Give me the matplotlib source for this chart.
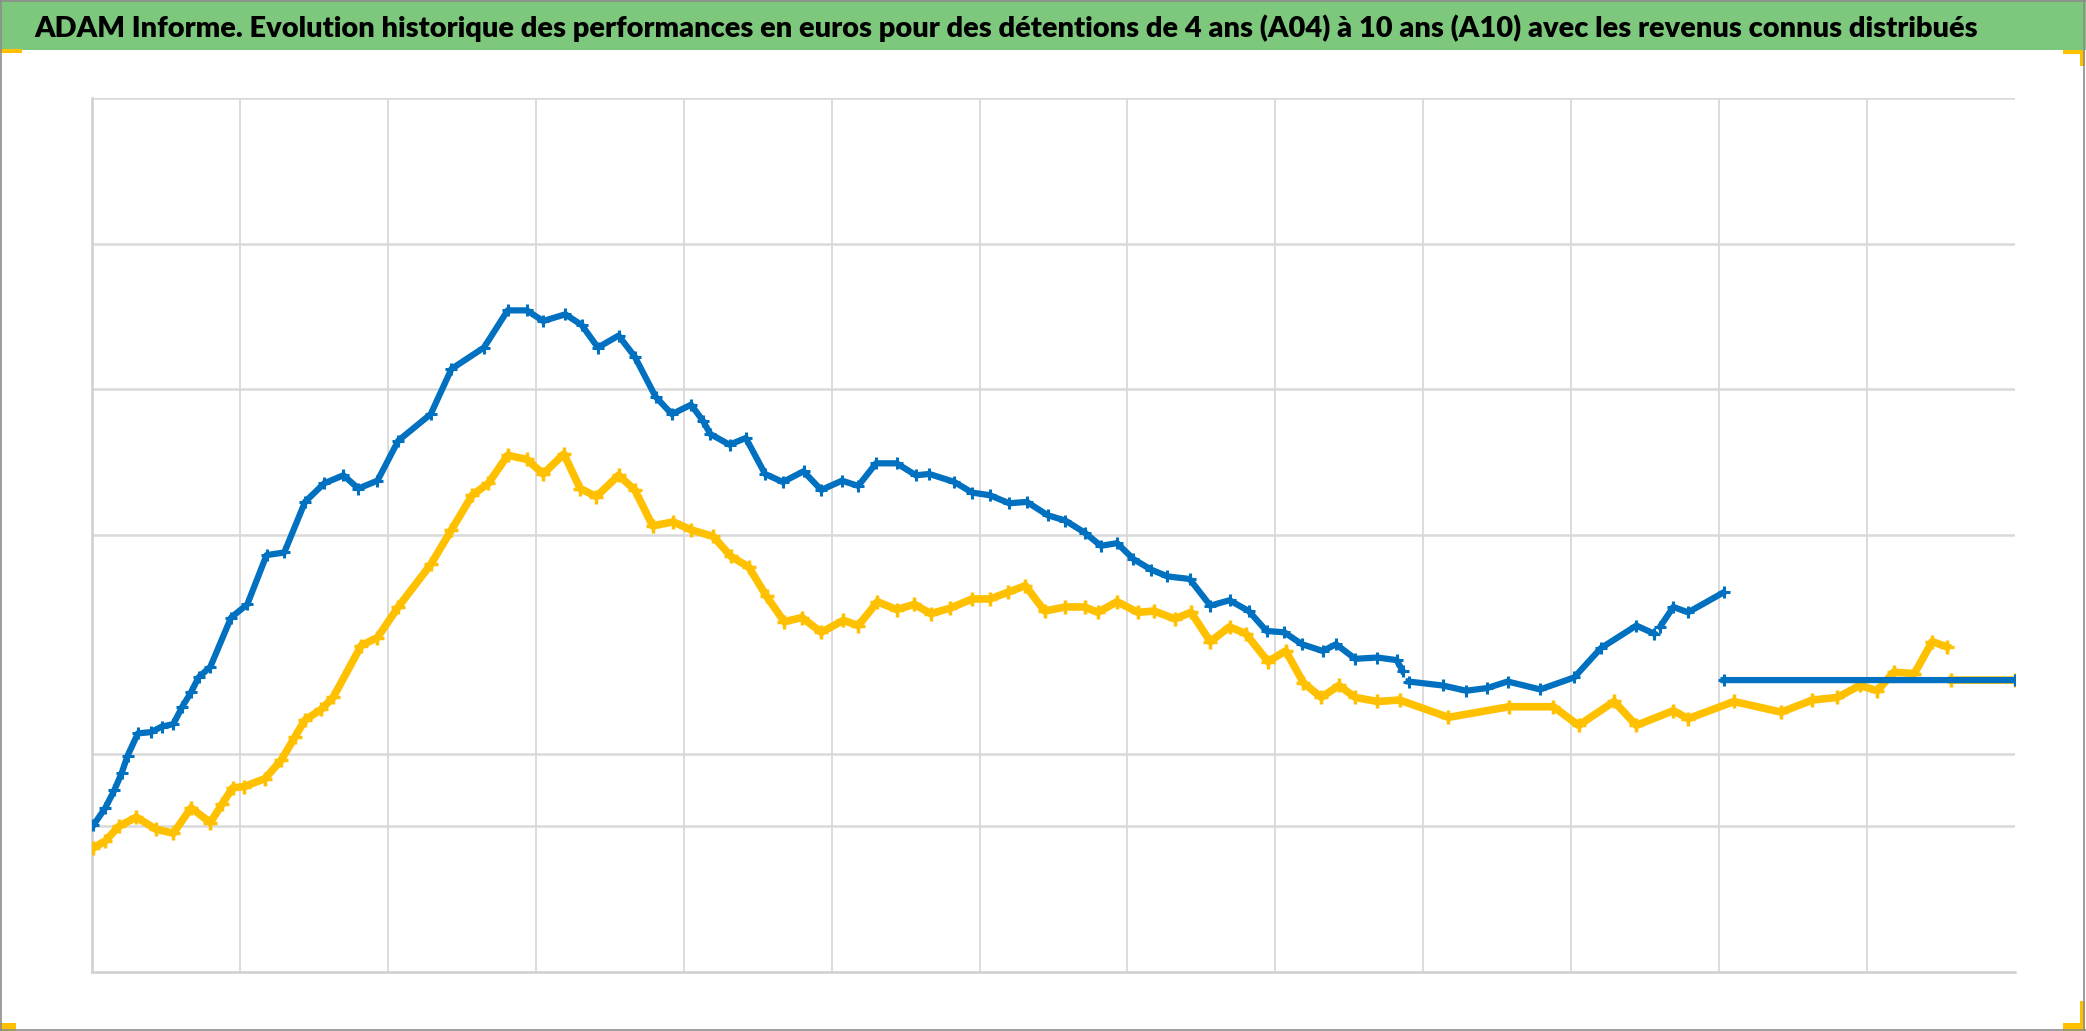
import matplotlib.pyplot as plt
from matplotlib.patches import Rectangle
from matplotlib.lines import Line2D

# Evolution des performances (unités arbitraires, axe sans étiquettes)
# A04 : série bleue, None = rupture de la série
a04_x = [1, 9, 15, 20, 24, 31, 40, 47, 55, 61, 67, 72, 80, 94, 105, 118, 130, 144, 157, 170,
         180, 193, 207, 229, 243, 265, 281, 294, 305, 320, 331, 342, 356, 367, 381, 392, 405,
         413, 418, 431, 442, 455, 467, 481, 493, 507, 518, 530, 544, 557, 566, 583, 595, 607,
         620, 632, 646, 658, 671, 682, 693, 704, 716, 727, 742, 756, 769, 782, 794, 806, 818,
         832, 841, 854, 869, 882, 886, None, 890, 913, 929, 943, 957, 979, 1002, 1020, 1044,
         1056, None, 1060, 1069, 1079, 1103, None, 1103, 1300]
a04_y = [1008, 1127, 1246, 1364, 1483, 1638, 1647, 1684, 1702, 1821, 1921, 2022, 2095, 2433,
         2524, 2862, 2880, 3227, 3355, 3410, 3319, 3373, 3647, 3830, 4140, 4287, 4542, 4542,
         4469, 4515, 4442, 4287, 4369, 4223, 3949, 3830, 3894, 3784, 3693, 3620, 3666, 3419,
         3364, 3437, 3309, 3373, 3337, 3492, 3492, 3410, 3419, 3364, 3291, 3273, 3218, 3227,
         3136, 3099, 3017, 2926, 2944, 2835, 2762, 2716, 2698, 2515, 2552, 2478, 2341, 2332,
         2250, 2204, 2250, 2150, 2159, 2141, 2067, None, 1994, 1967, 1931, 1949, 1994, 1940,
         2022, 2223, 2378, 2323, None, 2369, 2506, 2469, 2606, None, 2004, 2004]

# A10 : série jaune
a10_x = [1, 9, 18, 30, 43, 55, 67, 80, 88, 95, 103, 117, 128, 137, 144, 155, 163, 182, 193,
         207, 229, 243, 257, 268, 281, 294, 305, 319, 330, 341, 356, 367, 379, 393, 405, 420,
         432, 444, 456, 468, 480, 493, 508, 518, 531, 544, 556, 567, 580, 595, 607, 619, 631,
         644, 658, 671, 680, 693, 707, 718, 732, 743, 756, 769, 780, 795, 807, 819, 831, 843,
         854, 869, 884, 917, 958, 988, 1005, 1029, 1044, 1069, 1079, 1110, 1142, 1163, 1180,
         1195, 1207, 1218, 1232, 1244, 1254, None, 1257, 1300]
a10_y = [853, 899, 999, 1063, 981, 953, 1127, 1026, 1154, 1264, 1273, 1328, 1456, 1611, 1730,
         1803, 1885, 2241, 2296, 2506, 2798, 3035, 3273, 3355, 3547, 3519, 3419, 3556, 3319,
         3264, 3410, 3309, 3063, 3090, 3035, 2990, 2853, 2780, 2579, 2405, 2433, 2332, 2414,
         2378, 2542, 2488, 2524, 2460, 2497, 2561, 2561, 2606, 2652, 2478, 2506, 2506, 2469,
         2542, 2469, 2478, 2424, 2469, 2268, 2369, 2323, 2131, 2204, 1985, 1885, 1967, 1885,
         1857, 1867, 1748, 1821, 1821, 1693, 1857, 1693, 1794, 1739, 1857, 1784, 1867, 1885,
         1967, 1931, 2058, 2049, 2268, 2232, None, 2004, 2004]

grid_y = [1000, 1500, 3000, 4000, 5000, 6000]
grid_x = list(range(100, 1300, 100))

titre = ("ADAM Informe. Evolution historique des performances en euros pour des détentions "
         "de 4 ans (A04) à 10 ans (A10) avec les revenus connus distribués")

W, H = 2086, 1031
fig = plt.figure(figsize=(W / 100, H / 100), dpi=100)
fig.patch.set_facecolor('white')

# bandeau titre
fig.patches.append(Rectangle((0, 1 - 50 / H), 1, 50 / H, transform=fig.transFigure,
                             facecolor='#7ec87e', edgecolor='none', zorder=0))
t = fig.text(34 / W, 1 - 37 / H, titre, fontsize=22, fontweight='heavy',
             family=['Lato', 'DejaVu Sans'], color='black', va='baseline', ha='left')
fig.canvas.draw()
w = t.get_window_extent().width
t.set_fontsize(22 * 1946 / w)

# bordure et repères de sélection
bord = '#8c8c8c'
for xs, ys in [([0, 1], [1 - 0.5 / H] * 2), ([0, 1], [1.5 / H] * 2),
               ([0.5 / W] * 2, [0, 1]), ([1 - 2 / W] * 2, [0, 1])]:
    fig.add_artist(Line2D(xs, ys, transform=fig.transFigure, color=bord, lw=1.2))
jaune = '#ffc000'
fig.patches.append(Rectangle((0, 1 - 53 / H), 22 / W, 4 / H, transform=fig.transFigure,
                             facecolor=jaune, edgecolor='none'))
fig.patches.append(Rectangle((0, 0), 16 / W, 8 / H, transform=fig.transFigure,
                             facecolor=jaune, edgecolor='none'))
fig.patches.append(Rectangle((1 - 23 / W, 1 - 54 / H), 22 / W, 4 / H, transform=fig.transFigure,
                             facecolor=jaune, edgecolor='none'))
fig.patches.append(Rectangle((1 - 6 / W, 1 - 66 / H), 5 / W, 16 / H, transform=fig.transFigure,
                             facecolor=jaune, edgecolor='none'))
fig.patches.append(Rectangle((1 - 23 / W, 0), 22 / W, 8 / H, transform=fig.transFigure,
                             facecolor=jaune, edgecolor='none'))
fig.patches.append(Rectangle((1 - 6 / W, 0), 5 / W, 30 / H, transform=fig.transFigure,
                             facecolor=jaune, edgecolor='none'))

ax = fig.add_axes([92 / W, 1 - 972 / H, 1923 / W, 874 / H])
ax.set_xlim(0, 1300)
ax.set_ylim(0, 6000)
for gx in grid_x:
    ax.axvline(gx, color='#d9d9d9', lw=1.3, zorder=1)
for gy in grid_y:
    ax.axhline(gy, color='#d9d9d9', lw=1.8, zorder=1)
for s in ['top', 'right']:
    ax.spines[s].set_visible(False)
for s in ['left', 'bottom']:
    ax.spines[s].set_color('#cfcfcf')
    ax.spines[s].set_linewidth(1.8)
ax.set_xticks([])
ax.set_yticks([])

ax.plot(a10_x, a10_y, color='#ffc000', lw=5.5, marker='+', ms=10, mew=2.5, zorder=3)
ax.plot(a04_x, a04_y, color='#0070c0', lw=4.5, marker='+', ms=9, mew=2.2, zorder=4)

fig.savefig('out.png', dpi=100)
